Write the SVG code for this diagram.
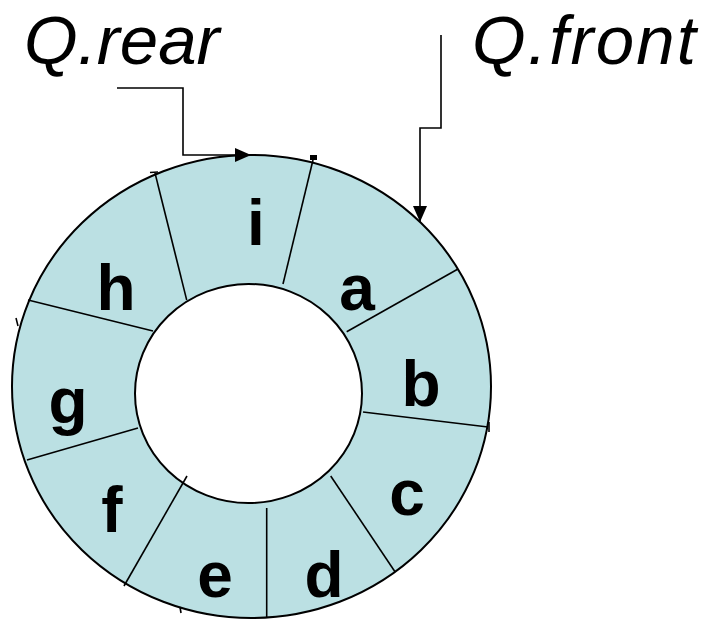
<svg xmlns="http://www.w3.org/2000/svg" width="708" height="620" viewBox="0 0 708 620">
  <defs>
    <style>
      .ring { fill: #BBE0E3; stroke: #000; stroke-width: 2; fill-rule: evenodd; }
      .div { stroke: #000; stroke-width: 1.6; fill: none; }
      .tick { stroke: #000; stroke-width: 1.6; fill: none; }
      .lbl { font-family: "Liberation Sans", Arial, sans-serif; font-weight: bold; font-size: 64px; fill: #000; text-anchor: middle; }
      .ptr { font-family: "Liberation Sans", Arial, sans-serif; font-style: italic; font-size: 69px; fill: #000; }
      .wire { stroke: #000; stroke-width: 1.6; fill: none; }
    </style>
    <marker id="arrow" viewBox="0 0 16 14" refX="16" refY="7" markerWidth="16" markerHeight="14" markerUnits="userSpaceOnUse" orient="auto">
      <path d="M0,0 L16,7 L0,14 Z" fill="#000"/>
    </marker>
  </defs>

  <!-- circular buffer ring -->
  <g id="ring">
    <path class="ring" d="M12,386.5 a239.5,231.5 0 1,0 479,0 a239.5,231.5 0 1,0 -479,0 Z M135,393.5 a113.5,109.5 0 1,0 227,0 a113.5,109.5 0 1,0 -227,0 Z"/>
  </g>

  <!-- slot dividers -->
  <g id="dividers">
    <line class="div" x1="283" y1="284" x2="313" y2="160"/>
    <line class="div" x1="346.7" y1="331.7" x2="458" y2="269"/>
    <line class="div" x1="363" y1="412" x2="488" y2="427"/>
    <line class="div" x1="330.7" y1="476" x2="395" y2="571.7"/>
    <line class="div" x1="266.7" y1="508" x2="266.7" y2="618"/>
    <line class="div" x1="187" y1="476" x2="124" y2="586"/>
    <line class="div" x1="138" y1="428" x2="27" y2="460"/>
    <line class="div" x1="153" y1="331" x2="28" y2="300"/>
    <line class="div" x1="186.7" y1="300" x2="155" y2="173"/>
    <!-- small marks on the rim -->
    <rect x="310" y="155" width="7" height="5" fill="#000"/>
    <line class="tick" x1="150" y1="172.5" x2="158" y2="172"/>
    <line class="tick" x1="16" y1="318" x2="18" y2="326"/>
    <line class="tick" x1="489" y1="422" x2="489" y2="432"/>
    <line class="tick" x1="180" y1="607" x2="181" y2="613"/>
  </g>

  <!-- slot contents -->
  <g id="slot-a"><text class="lbl" x="357" y="310">a</text></g>
  <g id="slot-b"><text class="lbl" x="421" y="406">b</text></g>
  <g id="slot-c"><text class="lbl" x="407" y="515">c</text></g>
  <g id="slot-d"><text class="lbl" x="324" y="597">d</text></g>
  <g id="slot-e"><text class="lbl" x="215" y="597">e</text></g>
  <g id="slot-f"><text class="lbl" x="112" y="532">f</text></g>
  <g id="slot-g"><text class="lbl" x="68" y="423">g</text></g>
  <g id="slot-h"><text class="lbl" x="116" y="310">h</text></g>
  <g id="slot-i"><text class="lbl" x="256" y="245">i</text></g>

  <!-- pointer labels -->
  <g id="rear"><text class="ptr" x="24" y="64">Q.rear</text></g>
  <g id="front"><text class="ptr" x="472" y="64" textLength="224" lengthAdjust="spacing">Q.front</text></g>

  <!-- pointer arrows -->
  <g id="connectors">
    <polyline class="wire" points="117,88 183,88 183,155 251,155" marker-end="url(#arrow)"/>
    <polyline class="wire" points="441,35 441,128 420,128 420,222" marker-end="url(#arrow)"/>
  </g>
</svg>
